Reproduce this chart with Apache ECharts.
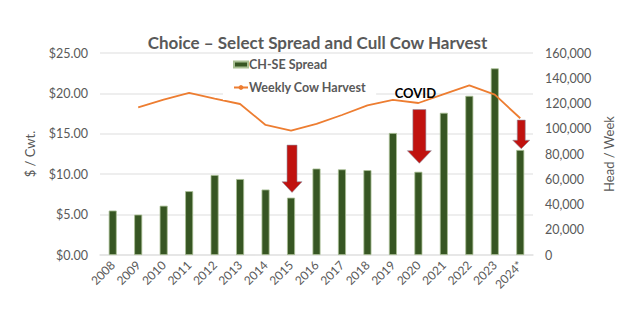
<!DOCTYPE html>
<html>
<head>
<meta charset="utf-8">
<script src="https://cdn.jsdelivr.net/npm/echarts@6/dist/echarts.min.js"></script>
<style>
html,body{margin:0;padding:0;background:#fff;}
#chart{width:635px;height:334px;}
</style>
</head>
<body>
<div id="chart"></div>
<script>
var years = ['2008','2009','2010','2011','2012','2013','2014','2015','2016','2017','2018','2019','2020','2021','2022','2023','2024*'];
var spread = [5.5, 5.0, 6.1, 7.9, 9.9, 9.4, 8.1, 7.1, 10.7, 10.6, 10.5, 15.1, 10.3, 17.6, 19.7, 23.1, 13.0];
var cowHarvest = [null, 117000, 123000, 128500, 123800, 119600, 103000, 98500, 103800, 110900, 118500, 122800, 120400, 127500, 134400, 127000, 108300];
var leftTicks = [0, 5, 10, 15, 20, 25];
var rightTicks = [0, 20000, 40000, 60000, 80000, 100000, 120000, 140000, 160000];
// arrows: [category, top ($), tip ($)]
var arrowCats = ['2015', '2020', '2024*'];
var arrowTops = [13.6, 18.0, 16.7];
var arrowTips = [7.75, 11.35, 13.15];
var arrowLabels = ['', 'COVID', ''];
var labelValues = [null, 20.1, null];

var FONT = 'Lato, "Open Sans", sans-serif';
var GREY = '#595959';

var chart = echarts.init(document.getElementById('chart'), null, {renderer: 'svg'});

var arrowData = arrowCats.map(function (c, i) {
  return [c, arrowTops[i], arrowTips[i], labelValues[i]];
});
var arrowBodyHalf = [5, 6.5, 4];
var arrowHeadHalf = [10, 12, 8.5];
var arrowHeadLen = [10.6, 12.6, 8.5];

chart.setOption({
  animation: false,
  title: {
    text: 'Choice – Select Spread and Cull Cow Harvest',
    left: 'center',
    top: 29,
    textStyle: {fontFamily: FONT, fontSize: 17, fontWeight: 'bold', color: GREY}
  },
  legend: {
    orient: 'vertical',
    left: 223,
    top: 56,
    padding: [2, 10, 6, 10],
    itemGap: 10,
    backgroundColor: '#fff',
    itemWidth: 14,
    itemHeight: 6,
    textStyle: {fontFamily: FONT, fontSize: 12.5, fontWeight: 'bold', color: GREY, padding: [0, 0, 0, -4]},
    data: [
      {name: 'CH-SE Spread', icon: 'rect'},
      {name: 'Weekly Cow Harvest'}
    ]
  },
  grid: {left: 100, right: 102, top: 53, bottom: 79, containLabel: false},
  xAxis: {
    type: 'category',
    data: years,
    axisLine: {show: true, lineStyle: {color: '#e4e4e4', width: 1.5}},
    axisTick: {show: false},
    axisLabel: {rotate: 45, color: GREY, fontFamily: FONT, fontSize: 12, margin: 8, interval: 0}
  },
  yAxis: [
    {
      type: 'value', min: 0, max: 25, interval: 5,
      name: '$ / Cwt.', nameLocation: 'middle', nameGap: 64, nameRotate: 90,
      nameTextStyle: {color: GREY, fontFamily: FONT, fontSize: 13},
      axisLine: {show: false}, axisTick: {show: false},
      axisLabel: {color: GREY, fontFamily: FONT, fontSize: 12.5, margin: 12,
        formatter: function (v) { return '$' + v.toFixed(2); }},
      splitLine: {lineStyle: {color: '#e8e8e8', width: 1.5}}
    },
    {
      type: 'value', min: 0, max: 160000, interval: 20000,
      name: 'Head / Week', nameLocation: 'middle', nameGap: 60, nameRotate: 90,
      nameTextStyle: {color: GREY, fontFamily: FONT, fontSize: 13},
      axisLine: {show: false}, axisTick: {show: false},
      axisLabel: {color: GREY, fontFamily: FONT, fontSize: 12.5, margin: 12,
        formatter: function (v) { return v.toLocaleString('en-US'); }},
      splitLine: {show: false}
    }
  ],
  series: [
    {
      name: 'CH-SE Spread',
      type: 'bar',
      yAxisIndex: 0,
      data: spread,
      barWidth: 8,
      itemStyle: {color: '#375623', borderColor: '#a9bf94', borderWidth: 0.8},
      z: 2
    },
    {
      name: 'Weekly Cow Harvest',
      type: 'line',
      yAxisIndex: 1,
      data: cowHarvest,
      symbol: 'none',
      lineStyle: {color: '#ED7D31', width: 1.8},
      itemStyle: {color: '#ED7D31'},
      connectNulls: false,
      z: 3
    },
    {
      name: 'arrows',
      type: 'custom',
      yAxisIndex: 0,
      data: arrowData,
      z: 5,
      silent: true,
      renderItem: function (params, api) {
        var i = params.dataIndex;
        var top = api.coord([api.value(0), api.value(1)]);
        var tip = api.coord([api.value(0), api.value(2)]);
        var x = top[0] + 1;
        var bw = arrowBodyHalf[i];
        var hw = arrowHeadHalf[i];
        var hl = arrowHeadLen[i];
        var y0 = top[1], y1 = tip[1];
        var children = [{
          type: 'polygon',
          shape: {points: [
            [x - bw, y0], [x + bw, y0], [x + bw, y1 - hl], [x + hw, y1 - hl],
            [x, y1], [x - hw, y1 - hl], [x - bw, y1 - hl]
          ]},
          style: {fill: '#C0120F', stroke: '#8f8fa0', lineWidth: 0.6}
        }];
        var lbl = arrowLabels[i];
        if (lbl) {
          var lp = api.coord([api.value(0), api.value(3)]);
          children.push({
            type: 'text',
            style: {text: lbl, x: lp[0] - 3, y: lp[1], align: 'center', verticalAlign: 'middle',
              fill: '#000', font: 'bold 13px ' + FONT}
          });
        }
        return {type: 'group', children: children};
      }
    }
  ]
});
</script>
</body>
</html>
